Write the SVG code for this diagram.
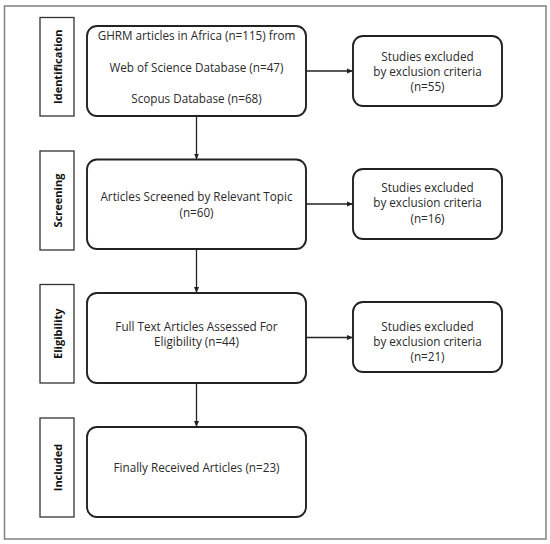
<svg xmlns="http://www.w3.org/2000/svg" width="550" height="544" viewBox="0 0 550 544">
<defs>
<marker id="ah" viewBox="0 0 6 6" refX="6" refY="3" markerWidth="6" markerHeight="6" markerUnits="userSpaceOnUse" orient="auto">
<path d="M0,0.5 L6,3 L0,5.5 Z" fill="#222"/>
</marker>
<style>
.frame{fill:#fff;stroke:#808080;stroke-width:1.5}
.lab{fill:#fff;stroke:#333;stroke-width:1.3}
.labt{font-family:"Open Sans","Noto Sans",sans-serif;font-weight:bold;font-size:11px;fill:#111;text-anchor:middle;dominant-baseline:central}
.box{fill:#fff;stroke:#222;stroke-width:1.9}
.t{font-family:"Open Sans","Noto Sans",sans-serif;font-size:11.7px;fill:#2a2a2a;text-anchor:middle}
.conn{stroke:#222;stroke-width:1.3;fill:none;marker-end:url(#ah)}
</style>
</defs>
<rect x="0" y="0" width="550" height="544" fill="#fff"/>
<rect class="frame" x="4.5" y="6" width="541.5" height="533"/>

<g id="label-identification">
<rect class="lab" x="40" y="17.5" width="34" height="98.5"/>
<text class="labt" transform="translate(57,66.7) rotate(-90)">Identification</text>
</g>
<g id="label-screening">
<rect class="lab" x="40" y="151" width="34" height="99"/>
<text class="labt" transform="translate(57,200.5) rotate(-90)">Screening</text>
</g>
<g id="label-eligibility">
<rect class="lab" x="40" y="284.5" width="34" height="98.5"/>
<text class="labt" transform="translate(57,333.7) rotate(-90)">Eligibility</text>
</g>
<g id="label-included">
<rect class="lab" x="40" y="418" width="34" height="99"/>
<text class="labt" transform="translate(57,467.5) rotate(-90)">Included</text>
</g>

<g id="box-identification">
<rect class="box" x="87" y="26" width="219" height="90" rx="10"/>
<text class="t" x="196.5" y="40">GHRM articles in Africa (n=115) from</text>
<text class="t" x="196.5" y="72">Web of Science Database (n=47)</text>
<text class="t" x="196.5" y="103">Scopus Database (n=68)</text>
</g>
<g id="box-screening">
<rect class="box" x="87" y="159.5" width="219" height="89.5" rx="10"/>
<text class="t" x="196.5" y="201">Articles Screened by Relevant Topic</text>
<text class="t" x="196.5" y="217">(n=60)</text>
</g>
<g id="box-eligibility">
<rect class="box" x="87" y="293" width="219" height="90" rx="10"/>
<text class="t" x="196.5" y="331">Full Text Articles Assessed For</text>
<text class="t" x="196.5" y="346">Eligibility (n=44)</text>
</g>
<g id="box-included">
<rect class="box" x="87" y="427" width="219" height="90" rx="10"/>
<text class="t" x="196.5" y="472">Finally Received Articles (n=23)</text>
</g>

<g id="excl-1">
<rect class="box" x="353" y="36" width="149" height="70" rx="10"/>
<text class="t" x="427.5" y="61">Studies excluded</text>
<text class="t" x="427.5" y="76">by exclusion criteria</text>
<text class="t" x="427.5" y="91">(n=55)</text>
</g>
<g id="excl-2">
<rect class="box" x="353" y="169" width="149" height="70" rx="10"/>
<text class="t" x="427.5" y="192">Studies excluded</text>
<text class="t" x="427.5" y="207">by exclusion criteria</text>
<text class="t" x="427.5" y="223">(n=16)</text>
</g>
<g id="excl-3">
<rect class="box" x="353" y="302" width="149" height="70" rx="10"/>
<text class="t" x="427.5" y="331">Studies excluded</text>
<text class="t" x="427.5" y="346">by exclusion criteria</text>
<text class="t" x="427.5" y="361">(n=21)</text>
</g>

<g id="connectors">
<line class="conn" x1="306" y1="71" x2="353" y2="71"/>
<line class="conn" x1="306" y1="204" x2="353" y2="204"/>
<line class="conn" x1="306" y1="337.5" x2="353" y2="337.5"/>
<line class="conn" x1="196.5" y1="116" x2="196.5" y2="159.5"/>
<line class="conn" x1="196.5" y1="249" x2="196.5" y2="293"/>
<line class="conn" x1="196.5" y1="383" x2="196.5" y2="427"/>
</g>
</svg>
